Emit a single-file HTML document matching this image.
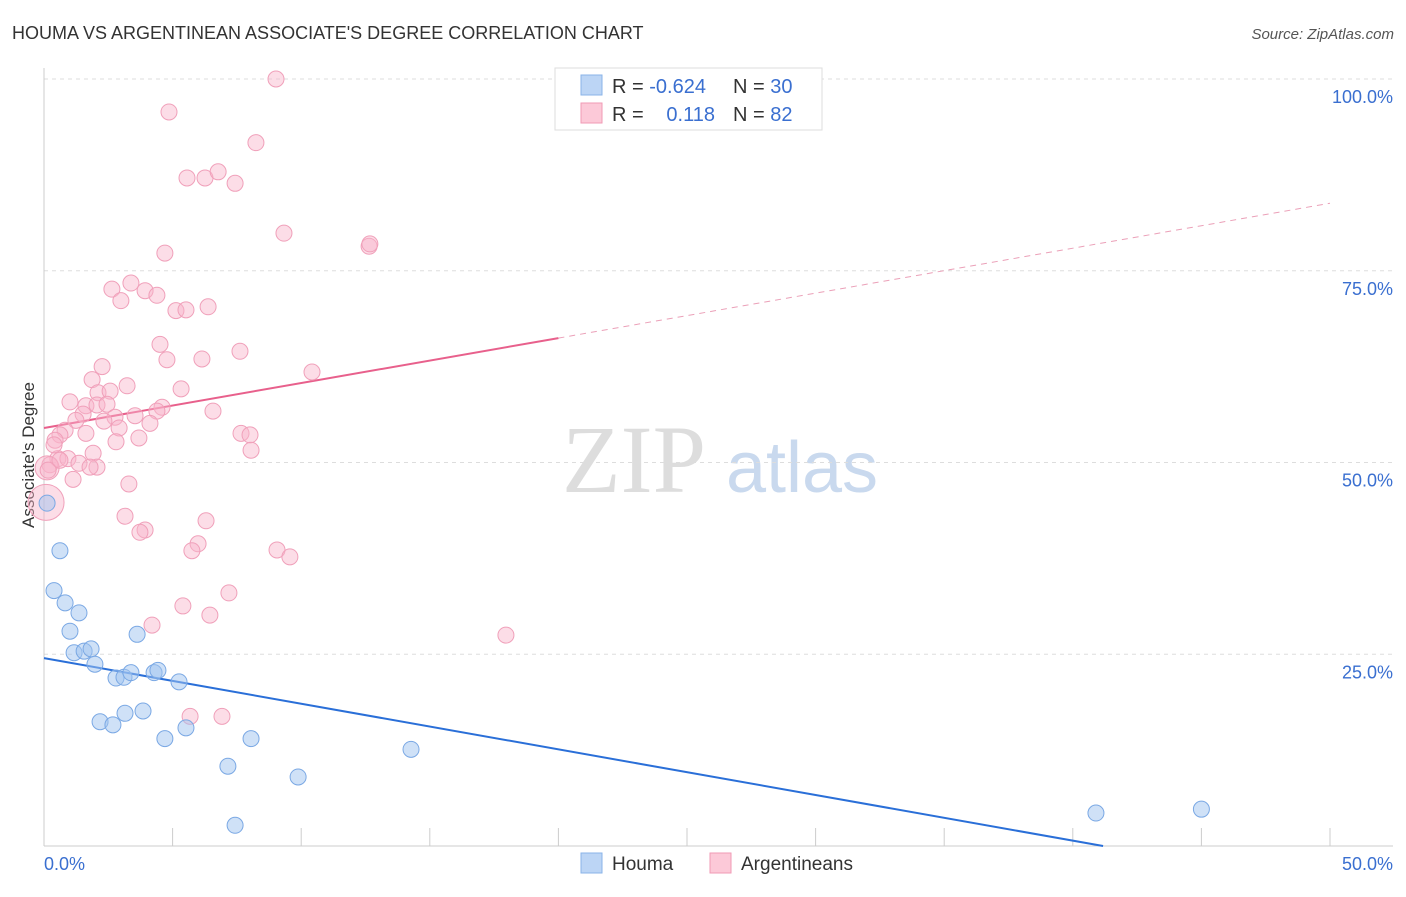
<!DOCTYPE html>
<html><head><meta charset="utf-8"><style>
body{margin:0;background:#fff;font-family:"Liberation Sans",sans-serif}
</style></head><body>
<svg id="chart" width="1406" height="892" xmlns="http://www.w3.org/2000/svg" style="font-family:'Liberation Sans',sans-serif">
<text x="12" y="39" font-size="18" fill="#333">HOUMA VS ARGENTINEAN ASSOCIATE'S DEGREE CORRELATION CHART</text>
<text x="1394" y="39" font-size="15" fill="#555" font-style="italic" text-anchor="end">Source: ZipAtlas.com</text>
<text x="634" y="492" font-size="96" fill="#ddd" text-anchor="middle" font-family="Liberation Serif">ZIP</text>
<text x="802" y="492" font-size="72" fill="#c9d9ee" text-anchor="middle">atlas</text>
<text x="34" y="455" font-size="17" fill="#333" text-anchor="middle" transform="rotate(-90 34 455)">Associate's Degree</text>
<g id="grid"></g><g id="ticks"></g><g id="lines"></g><g id="pts"></g>
<g>
<rect x="555" y="68" width="267" height="62" fill="#fff" stroke="#ddd"/>
<rect x="581" y="75" width="21" height="20" fill="#bcd5f5" stroke="#8ab3e8"/>
<rect x="581" y="103" width="21" height="20" fill="#fcc9d8" stroke="#f09ab5"/>
<text x="612" y="93" font-size="20" fill="#333">R = <tspan fill="#3a6fd0">-0.624</tspan></text>
<text x="733" y="93" font-size="20" fill="#333">N = <tspan fill="#3a6fd0">30</tspan></text>
<text x="612" y="121" font-size="20" fill="#333">R = </text>
<text x="715" y="121" font-size="20" fill="#3a6fd0" text-anchor="end">0.118</text>
<text x="733" y="121" font-size="20" fill="#333">N = <tspan fill="#3a6fd0">82</tspan></text>
</g>
<g>
<rect x="581" y="853" width="21" height="20" fill="#bcd5f5" stroke="#8ab3e8"/>
<text x="612" y="870" font-size="19" fill="#333">Houma</text>
<rect x="710" y="853" width="21" height="20" fill="#fcc9d8" stroke="#f09ab5"/>
<text x="741" y="870" font-size="19" fill="#333">Argentineans</text>
</g>
</svg>
<script>
const houmaX=[0.12,0.62,0.39,0.82,1.01,1.36,1.17,1.56,1.83,1.98,3.62,2.80,3.11,3.38,4.28,4.43,5.25,2.18,2.68,3.15,3.85,4.70,5.52,7.15,8.05,9.88,7.43,14.27,40.9,45.0];
const houmaY=[44.7,38.5,33.3,31.7,28.0,30.4,25.2,25.4,25.7,23.7,27.6,21.9,22.0,22.6,22.6,22.9,21.4,16.2,15.8,17.3,17.6,14.0,15.4,10.4,14.0,9.0,2.7,12.6,4.3,4.8];
const argX=[9.02,4.86,8.24,5.56,6.26,6.77,7.43,9.33,12.64,12.67,4.70,3.38,2.64,3.93,4.39,2.99,5.13,5.52,6.38,4.51,4.78,6.14,7.62,10.42,2.26,1.87,3.23,5.33,2.10,2.57,1.01,1.63,2.06,2.45,4.59,4.39,6.57,1.52,2.76,3.54,4.12,1.24,2.33,2.92,0.82,0.62,0.43,1.63,3.69,2.80,7.66,8.01,8.05,1.91,0.54,0.93,1.36,2.06,0.23,1.79,1.13,0.12,3.30,0.08,3.15,6.30,3.93,3.73,5.99,5.75,9.06,9.56,7.19,5.40,6.45,4.20,17.96,5.68,6.92,0.62,0.39,0.16];
const argY=[100.0,95.7,91.7,87.1,87.1,87.9,86.4,79.9,78.2,78.5,77.3,73.4,72.6,72.4,71.8,71.1,69.8,69.9,70.3,65.4,63.4,63.5,64.5,61.8,62.5,60.8,60.0,59.6,59.1,59.3,57.9,57.4,57.5,57.6,57.2,56.7,56.7,56.3,55.9,56.1,55.1,55.5,55.4,54.5,54.2,53.6,52.9,53.8,53.2,52.7,53.8,53.6,51.6,51.2,50.5,50.5,49.9,49.4,49.7,49.4,47.8,49.3,47.2,44.8,43.0,42.4,41.2,40.9,39.4,38.5,38.6,37.7,33.0,31.3,30.1,28.8,27.5,16.9,16.9,50.3,52.3,49.0];
const yTicks=[25,50,75,100];
const yTickLabels=["25.0%","50.0%","75.0%","100.0%"];
const xLabels=["0.0%","50.0%"];
const houmaLine=[24.5,-0.595];
const argLine=[54.5,0.586];
const NS="http://www.w3.org/2000/svg";
const X=v=>44+v*25.72, Y=v=>846-v*7.67;
function mk(t,a,p){const e=document.createElementNS(NS,t);for(const k in a)e.setAttribute(k,a[k]);document.getElementById(p).appendChild(e);return e;}
yTicks.forEach((t,i)=>{
 const g=mk('line',{x1:44,x2:1393,y1:Y(t),y2:Y(t),stroke:'#ddd','stroke-dasharray':'4,4'},'grid');
 
 
 const l=mk('text',{x:1393,y:Y(t)+24,'font-size':18,fill:'#3a6fd0','text-anchor':'end'},'ticks');
 l.textContent=yTickLabels[i];
 
 
});
const ax=mk('line',{x1:44,x2:1393,y1:846,y2:846,stroke:'#ccc'},'grid');


const ay=mk('line',{x1:44,x2:44,y1:68,y2:846,stroke:'#ccc'},'grid');


for(let i=1;i<=10;i++){const t=mk('line',{x1:X(i*5),x2:X(i*5),y1:828,y2:846,stroke:'#ccc'},'grid');
 
 }
[[0,'start'],[50,'end']].forEach((d,i)=>{const l=mk('text',{x:i?1393:44,y:870,'font-size':18,fill:'#3a6fd0','text-anchor':d[1]},'ticks');
 l.textContent=xLabels[i];
 
 });
const bl=mk('line',{x1:X(0),y1:Y(houmaLine[0]),x2:X(-houmaLine[0]/houmaLine[1]),y2:Y(0),stroke:'#2a6fd8','stroke-width':2},'lines');


const pl=mk('line',{x1:X(0),y1:Y(argLine[0]),x2:X(20),y2:Y(argLine[0]+argLine[1]*20),stroke:'#e8608c','stroke-width':2},'lines');


const pd=mk('line',{x1:X(20),y1:Y(argLine[0]+argLine[1]*20),x2:X(50),y2:Y(argLine[0]+argLine[1]*50),stroke:'#eba0b8','stroke-width':1,'stroke-dasharray':'6,5'},'lines');


argX.forEach((x,i)=>{const r=i===63?18:(i===61?12:8);
 const c=mk('circle',{cx:X(x),cy:Y(argY[i]),r:r,fill:'rgba(248,180,202,0.45)',stroke:'#f0a0ba','stroke-width':1},'pts');
 
 });
houmaX.forEach((x,i)=>{const c=mk('circle',{cx:X(x),cy:Y(houmaY[i]),r:8,fill:'rgba(160,196,240,0.5)',stroke:'#7aa8e4','stroke-width':1},'pts');
 
 });
</script>
</body></html>
